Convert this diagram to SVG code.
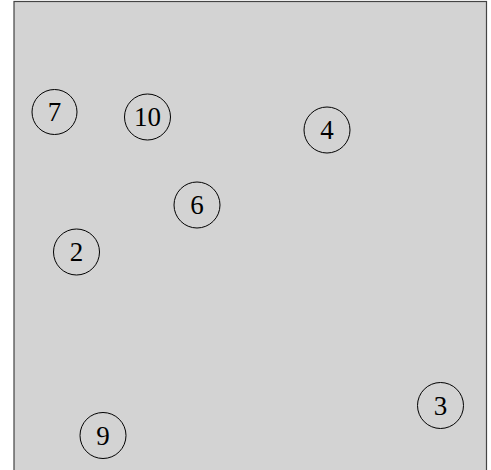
<svg xmlns="http://www.w3.org/2000/svg" width="491" height="470" viewBox="0 0 491 470">
<style>
.bg{fill:#d3d3d3;stroke:#444;stroke-width:1.2}
.n circle{fill:none;stroke:#000;stroke-width:1}
.n text{font-family:"Liberation Serif","DejaVu Serif",serif;font-size:27px;text-anchor:middle;dominant-baseline:central;fill:#000}
</style>
<rect class="bg" x="14" y="1.5" width="472.5" height="475"/>
<g id="connectors"></g>
<g id="node7" class="n"><circle cx="54.5" cy="112" r="22.5"/><text x="54.5" y="112">7</text></g>
<g id="node10" class="n"><circle cx="147.5" cy="117" r="23"/><text x="147.5" y="117">10</text></g>
<g id="node4" class="n"><circle cx="327" cy="130" r="23"/><text x="327" y="130">4</text></g>
<g id="node6" class="n"><circle cx="197" cy="205" r="23"/><text x="197" y="205">6</text></g>
<g id="node2" class="n"><circle cx="76.5" cy="252" r="23"/><text x="76.5" y="252">2</text></g>
<g id="node3" class="n"><circle cx="440.5" cy="405.5" r="23"/><text x="440.5" y="405.5">3</text></g>
<g id="node9" class="n"><circle cx="103" cy="435.5" r="23"/><text x="103" y="435.5">9</text></g>
</svg>
